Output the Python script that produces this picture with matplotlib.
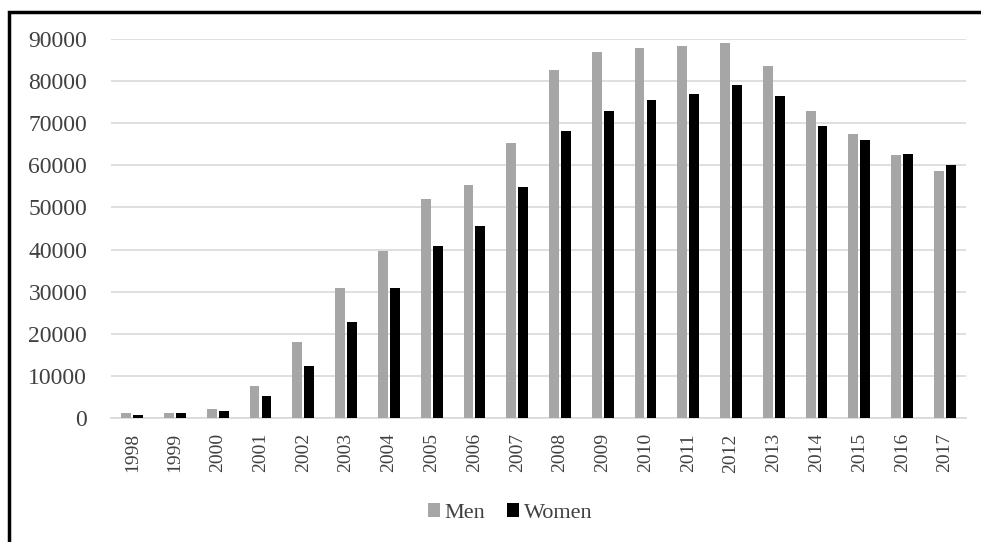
import matplotlib
matplotlib.use("Agg")
import matplotlib.pyplot as plt
import numpy as np
from matplotlib.patches import Rectangle

years = ["1998", "1999", "2000", "2001", "2002", "2003", "2004", "2005", "2006", "2007",
         "2008", "2009", "2010", "2011", "2012", "2013", "2014", "2015", "2016", "2017"]
men = [1100, 1100, 2000, 7600, 18000, 30800, 39600, 52100, 55300, 65200,
       82600, 86800, 87900, 88400, 89000, 83600, 73000, 67400, 62500, 58600]
women = [800, 1200, 1700, 5200, 12400, 22700, 30800, 40900, 45500, 54800,
         68100, 73000, 75400, 76900, 79100, 76400, 69300, 66000, 62800, 60000]
y_ticks = [0, 10000, 20000, 30000, 40000, 50000, 60000, 70000, 80000, 90000]

plt.rcParams["font.family"] = ["Liberation Serif", "DejaVu Serif"]

fig = plt.figure(figsize=(9.81, 5.42), dpi=100)
ax = fig.add_axes([0.113, 0.229, 0.872, 0.699])

x = np.arange(len(years))
w = 0.23
ax.bar(x - 0.14, men, width=w, color="#a6a6a6", label="Men", zorder=3)
ax.bar(x + 0.14, women, width=w, color="#000000", label="Women", zorder=3)

ax.set_xlim(-0.5, len(years) - 0.5)
ax.set_ylim(0, 90000)
ax.set_yticks(y_ticks)
ax.set_yticklabels([str(v) for v in y_ticks], fontsize=17, color="#404040")
ax.set_xticks(x)
ax.set_xticklabels(years, rotation=90, fontsize=14, color="#404040")
ax.tick_params(axis="both", length=0)
ax.tick_params(axis="y", pad=17)
ax.tick_params(axis="x", pad=11)
ax.grid(axis="y", color="#d9d9d9", linewidth=1.2, zorder=0)
for s in ["top", "right", "left"]:
    ax.spines[s].set_visible(False)
ax.spines["bottom"].set_color("#d9d9d9")
ax.spines["bottom"].set_linewidth(1.2)

fig.legend(loc="center", bbox_to_anchor=(510 / 981, 1 - 513 / 542), ncol=2,
           frameon=False, fontsize=16, handlelength=0.55, handleheight=0.55,
           handletextpad=0.2, columnspacing=1.0, labelcolor="#404040")

# outer frame around the chart
fig.patches.append(Rectangle((9 / 981, -0.05), 1.1, 1 - 12 / 542 + 0.05,
                             transform=fig.transFigure, fill=False,
                             edgecolor="black", linewidth=2.5, clip_on=False))

fig.savefig("out.png", dpi=100)
